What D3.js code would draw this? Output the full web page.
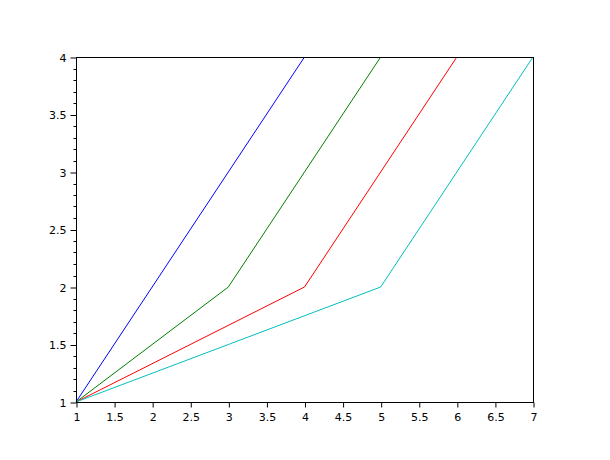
<!DOCTYPE html>
<html>
<head>
<meta charset="utf-8">
<script src="https://cdn.jsdelivr.net/npm/d3@7"></script>
<style>
  body { margin: 0; background: #fff; }
  svg { display: block; }
  text { font-family: "DejaVu Sans", sans-serif; font-size: 11px; fill: #000; }
</style>
</head>
<body>
<div id="chart"></div>
<script>
var WIDTH = 610
var HEIGHT = 460

// series data (x, y)
var blueX = [1, 4]
var blueY = [1, 4]
var greenX = [1, 3, 5]
var greenY = [1, 2, 4]
var redX = [1, 4, 6]
var redY = [1, 2, 4]
var cyanX = [1, 5, 7]
var cyanY = [1, 2, 4]

var xTicks = [1, 1.5, 2, 2.5, 3, 3.5, 4, 4.5, 5, 5.5, 6, 6.5, 7]
var yTicks = [1, 1.5, 2, 2.5, 3, 3.5, 4]

var series = [
    { x: blueX, y: blueY, color: '#0000ff' },
    { x: greenX, y: greenY, color: '#008000' },
    { x: redX, y: redY, color: '#ff0000' },
    { x: cyanX, y: cyanY, color: '#00bfbf' }
]

// plot box (note: "top" is a reserved window prop, so use other names)
var plotL = 76, plotR = 533, plotT = 57, plotB = 402

var xScale = d3.scaleLinear().domain([1, 7]).range([plotL, plotR])
var yScale = d3.scaleLinear().domain([1, 4]).range([plotB, plotT])

const svg = d3.select('#chart').append('svg')
    .attr('width', WIDTH)
    .attr('height', HEIGHT)

// lines
var line = d3.line()
    .x(d => xScale(d[0]))
    .y(d => yScale(d[1]))

series.forEach(s => {
    var pts = s.x.map((v, i) => [v, s.y[i]])
    svg.append('path')
        .datum(pts)
        .attr('d', line)
        .attr('fill', 'none')
        .attr('stroke', s.color)
        .attr('stroke-width', 1)
})

// frame
svg.append('rect')
    .attr('x', plotL + 0.5)
    .attr('y', plotT + 0.5)
    .attr('width', plotR - plotL)
    .attr('height', plotB - plotT)
    .attr('fill', 'none')
    .attr('stroke', '#000')
    .attr('stroke-width', 1)

// x axis
var xAxis = d3.axisBottom(xScale)
    .tickValues(xTicks)
    .tickFormat(d3.format('~g'))
    .tickSize(5)
    .tickPadding(6)
var gx = svg.append('g')
    .attr('transform', 'translate(0.5,' + (plotB + 0.5) + ')')
    .call(xAxis)
gx.select('.domain').remove()
gx.selectAll('text').style('font-family', '"DejaVu Sans", sans-serif').style('font-size', '11px')

// y axis minor ticks
var minor = d3.range(10, 41).map(d => d / 10).filter(d => Math.abs(d * 2 - Math.round(d * 2)) > 1e-6)
svg.append('g')
    .selectAll('line')
    .data(minor)
    .enter()
    .append('line')
    .attr('x1', plotL - 3 + 0.5)
    .attr('x2', plotL + 0.5)
    .attr('y1', d => Math.round(yScale(d)) + 0.5)
    .attr('y2', d => Math.round(yScale(d)) + 0.5)
    .attr('stroke', '#000')

// y axis
var yAxis = d3.axisLeft(yScale)
    .tickValues(yTicks)
    .tickFormat(d3.format('~g'))
    .tickSize(6)
    .tickPadding(4)
var gy = svg.append('g')
    .attr('transform', 'translate(' + (plotL + 0.5) + ',0.5)')
    .call(yAxis)
gy.select('.domain').remove()
gy.selectAll('text').style('font-family', '"DejaVu Sans", sans-serif').style('font-size', '11px')
</script>
</body>
</html>
